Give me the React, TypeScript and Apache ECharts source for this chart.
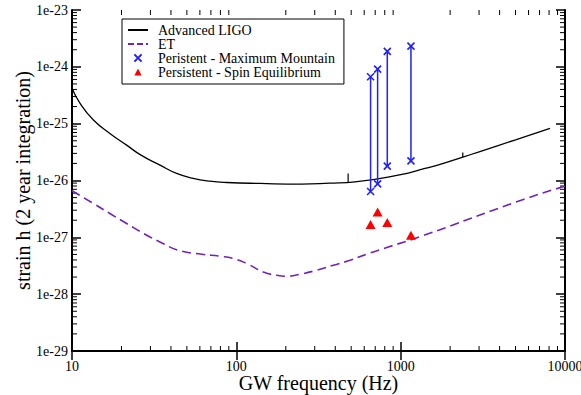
import { useEffect, useRef } from 'react';
import * as echarts from 'echarts';

// Advanced LIGO sensitivity curve (Hz, strain)
const ligoFreq = [10, 11.2, 13.5, 17, 21.5, 26.3, 34.3, 43.3, 54.6, 69.1, 87.6, 140, 250, 370, 527, 1000, 1406, 1738, 2388, 3000, 5000, 8100];
const ligoStrain = [4.2e-25, 2.27e-25, 1.16e-25, 6.74e-26, 4.19e-26, 2.79e-26, 1.86e-26, 1.33e-26, 1.09e-26, 9.73e-27, 9.23e-27, 8.87e-27, 8.63e-27, 8.98e-27, 9.46e-27, 1.27e-26, 1.63e-26, 1.92e-26, 2.58e-26, 3.19e-26, 5.2e-26, 8.26e-26];

// narrow spectral lines on the Advanced LIGO curve
const ligoLineFreq = [479, 2388];
const ligoLineBase = [9.3e-27, 2.58e-26];
const ligoLineTop = [1.33e-26, 3.1e-26];

// Einstein Telescope sensitivity curve
const etFreq = [10, 13.5, 17, 21.5, 28.5, 34.3, 44.4, 61.5, 79.6, 95.9, 115.7, 146, 176, 203, 244, 309, 389, 492, 622, 823, 1343, 5585, 10000];
const etStrain = [6.6e-27, 3.94e-27, 2.63e-27, 1.75e-27, 1.09e-27, 8.3e-28, 5.93e-28, 5.05e-28, 4.65e-28, 4.24e-28, 3.46e-28, 2.46e-28, 2.15e-28, 2.07e-28, 2.24e-28, 2.64e-28, 3.23e-28, 3.95e-28, 5.05e-28, 6.62e-28, 1.05e-27, 4.64e-27, 7.94e-27];

// persistent sources: maximum-mountain range and spin-equilibrium estimate
const sourceFreq = [656, 724, 829, 1155];
const mountainUpper = [6.7e-25, 9.1e-25, 1.87e-24, 2.32e-24];
const mountainLower = [6.4e-27, 8.7e-27, 1.79e-26, 2.22e-26];
const spinEqStrain = [1.68e-27, 2.8e-27, 1.82e-27, 1.09e-27];

// strain axis tick labels
const yTickValues = [1e-29, 1e-28, 1e-27, 1e-26, 1e-25, 1e-24, 1e-23];
const yTickLabels = ['1e-29', '1e-28', '1e-27', '1e-26', '1e-25', '1e-24', '1e-23'];

const X_MIN = 10;
const X_MAX = 10000;
const Y_MIN = 1e-29;
const Y_MAX = 1e-23;

const SERIF = 'Liberation Serif';
const BLUE = '#1f1fff';
const RED = '#ff0000';
const INDIGO = '#7222bc';

const GRID = { left: 72, right: 16, top: 10, bottom: 44 };
const CHART_W = 581;
const CHART_H = 395;

// minor ticks at 2..9 x 10^k for both log axes
function buildMinorTicks() {
  const out: number[][] = [];
  for (let k = 1; k <= 3; k++) {
    for (let m = 2; m <= 9; m++) out.push([m * Math.pow(10, k), Y_MIN, 0]);
  }
  for (let k = -29; k <= -24; k++) {
    for (let m = 2; m <= 9; m++) out.push([X_MIN, m * Math.pow(10, k), 1]);
  }
  return out;
}

function App() {
  const ref = useRef<HTMLDivElement>(null);

  useEffect(() => {
    if (!ref.current) return;
    const chart = echarts.init(ref.current, null, { renderer: 'svg' });

    const axisCommon = {
      type: 'log' as const,
      logBase: 10,
      axisLine: { show: true, lineStyle: { color: '#000', width: 2 } },
      axisTick: { show: true, inside: true, length: 9, lineStyle: { color: '#000', width: 1.5 } },
      splitLine: { show: false },
      minorTick: { show: false },
    };

    const tickStyle = { stroke: '#000', lineWidth: 1 };
    const minorLen = 5;
    const hiddenSymbol = { color: 'rgba(0,0,0,0)', borderWidth: 0, opacity: 0 };
    const plotMidY = GRID.top + (CHART_H - GRID.top - GRID.bottom) / 2;
    const plotMidX = GRID.left + (CHART_W - GRID.left - GRID.right) / 2;

    const option: any = {
      animation: false,
      backgroundColor: '#fff',
      grid: { ...GRID, containLabel: false, outerBoundsMode: 'none' },
      legend: {
        left: 122,
        top: 19,
        orient: 'vertical',
        borderColor: '#000',
        borderWidth: 1,
        borderRadius: 0,
        padding: [4, 9, 5, 5],
        itemGap: 0,
        itemWidth: 20,
        itemHeight: 9,
        selectedMode: false,
        textStyle: { fontFamily: SERIF, fontSize: 14, color: '#000', padding: [0, 0, 0, 5] },
        data: [
          { name: 'Advanced LIGO', itemStyle: hiddenSymbol },
          { name: 'ET', itemStyle: hiddenSymbol, lineStyle: { type: [6, 3] } },
          { name: 'Peristent - Maximum Mountain' },
          { name: 'Persistent - Spin Equilibrium' },
        ],
      },
      graphic: [
        {
          type: 'text',
          x: 23,
          y: plotMidY,
          rotation: Math.PI / 2,
          silent: true,
          style: {
            text: 'strain h (2 year integration)',
            fontFamily: SERIF,
            fontSize: 20,
            fill: '#000',
            align: 'center',
            verticalAlign: 'middle',
          },
        },
        {
          type: 'text',
          x: plotMidX,
          y: 383,
          silent: true,
          style: {
            text: 'GW frequency (Hz)',
            fontFamily: SERIF,
            fontSize: 20,
            fill: '#000',
            align: 'center',
            verticalAlign: 'middle',
          },
        },
      ],
      xAxis: [
        {
          ...axisCommon,
          position: 'bottom',
          min: X_MIN,
          max: X_MAX,
          splitNumber: 3,
          axisLabel: {
            fontFamily: SERIF,
            fontSize: 14,
            lineHeight: 14,
            color: '#000',
            margin: 8,
            hideOverlap: false,
            showMinLabel: true,
            showMaxLabel: true,
            formatter: (v: number) => String(Math.round(v)),
          },
        },
        {
          ...axisCommon,
          position: 'top',
          min: X_MIN,
          max: X_MAX,
          splitNumber: 3,
          axisLabel: { show: false },
        },
      ],
      yAxis: [
        {
          ...axisCommon,
          position: 'left',
          min: Y_MIN,
          max: Y_MAX,
          splitNumber: 6,
          axisLabel: { show: false },
        },
        {
          ...axisCommon,
          position: 'right',
          min: Y_MIN,
          max: Y_MAX,
          splitNumber: 6,
          axisLabel: { show: false },
        },
      ],
      series: [
        {
          type: 'custom',
          coordinateSystem: 'cartesian2d',
          silent: true,
          clip: false,
          data: buildMinorTicks(),
          renderItem: (_params: any, api: any) => {
            const kind = api.value(2);
            if (kind === 0) {
              const x = api.value(0);
              const b = api.coord([x, Y_MIN]);
              const t = api.coord([x, Y_MAX]);
              return {
                type: 'group',
                children: [
                  { type: 'line', shape: { x1: b[0], y1: b[1], x2: b[0], y2: b[1] - minorLen }, style: tickStyle },
                  { type: 'line', shape: { x1: t[0], y1: t[1], x2: t[0], y2: t[1] + minorLen }, style: tickStyle },
                ],
              };
            }
            const y = api.value(1);
            const l = api.coord([X_MIN, y]);
            const r = api.coord([X_MAX, y]);
            return {
              type: 'group',
              children: [
                { type: 'line', shape: { x1: l[0], y1: l[1], x2: l[0] + minorLen, y2: l[1] }, style: tickStyle },
                { type: 'line', shape: { x1: r[0], y1: r[1], x2: r[0] - minorLen, y2: r[1] }, style: tickStyle },
              ],
            };
          },
        },
        {
          // strain tick labels placed through the log y scale
          type: 'custom',
          coordinateSystem: 'cartesian2d',
          silent: true,
          clip: false,
          data: yTickValues.map((v) => [X_MIN, v]),
          renderItem: (params: any, api: any) => {
            const p = api.coord([X_MIN, api.value(1)]);
            return {
              type: 'text',
              x: p[0] - 4,
              y: p[1],
              style: {
                text: yTickLabels[params.dataIndex],
                fontFamily: SERIF,
                fontSize: 14,
                fill: '#000',
                align: 'right',
                verticalAlign: 'middle',
              },
            };
          },
        },
        {
          name: 'Advanced LIGO',
          type: 'line',
          data: ligoFreq.map((f, i) => [f, ligoStrain[i]]),
          symbol: 'none',
          smooth: 0.5,
          lineStyle: { color: '#000', width: 1.3 },
          itemStyle: { color: '#000' },
        },
        ...ligoLineFreq.map((f, i) => ({
          type: 'line',
          data: [
            [f, ligoLineBase[i]],
            [f, ligoLineTop[i]],
          ],
          symbol: 'none',
          lineStyle: { color: '#000', width: 1.2 },
        })),
        {
          name: 'ET',
          type: 'line',
          data: etFreq.map((f, i) => [f, etStrain[i]]),
          symbol: 'none',
          smooth: 0.5,
          lineStyle: { color: INDIGO, width: 1.6, type: [9, 5] },
          itemStyle: { color: INDIGO },
        },
        ...sourceFreq.map((f, i) => ({
          type: 'line',
          data: [
            [f, mountainUpper[i]],
            [f, mountainLower[i]],
          ],
          symbol: 'none',
          lineStyle: { color: BLUE, width: 1.5 },
        })),
        {
          name: 'Peristent - Maximum Mountain',
          type: 'line',
          data: [
            ...sourceFreq.map((f, i) => [f, mountainUpper[i]]),
            ...sourceFreq.map((f, i) => [f, mountainLower[i]]),
          ],
          symbol: 'path://M0,0L10,10M10,0L0,10',
          symbolSize: 7,
          showSymbol: true,
          lineStyle: { opacity: 0, width: 0 },
          itemStyle: { color: BLUE, borderColor: BLUE, borderWidth: 1.6 },
        },
        {
          name: 'Persistent - Spin Equilibrium',
          type: 'line',
          data: sourceFreq.map((f, i) => [f, spinEqStrain[i]]),
          symbol: 'triangle',
          symbolSize: [10, 9],
          showSymbol: true,
          lineStyle: { opacity: 0, width: 0 },
          itemStyle: { color: RED },
        },
      ],
    };

    chart.setOption(option);
    return () => {
      chart.dispose();
    };
  }, []);

  return <div ref={ref} style={{ position: 'fixed', left: 0, top: 0, width: CHART_W, height: CHART_H }} />;
}

export default App;
